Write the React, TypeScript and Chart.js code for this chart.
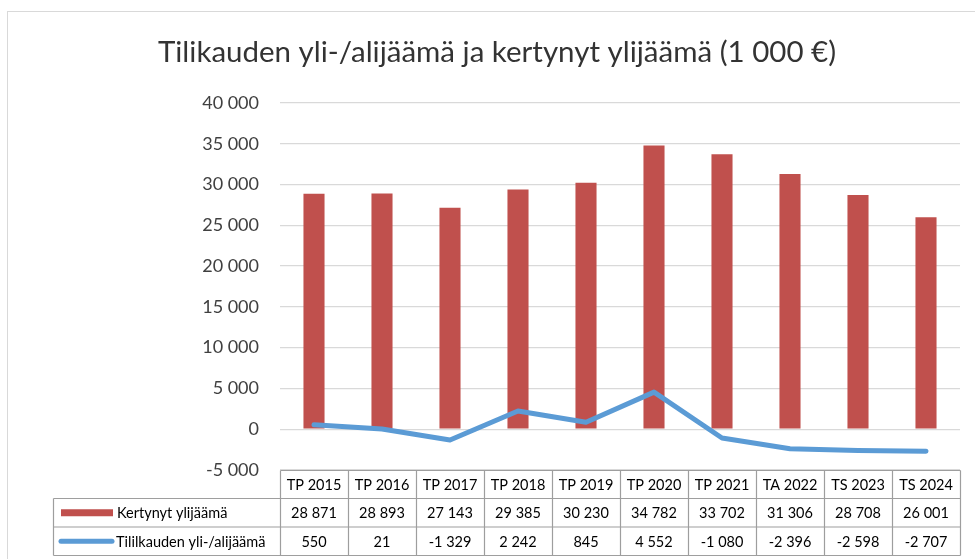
import React, { useEffect, useRef } from "react";
import { Chart, registerables } from "chart.js";

Chart.register(...registerables);

const categories = ["TP 2015", "TP 2016", "TP 2017", "TP 2018", "TP 2019", "TP 2020", "TP 2021", "TA 2022", "TS 2023", "TS 2024"];
const kertynyt = [28871, 28893, 27143, 29385, 30230, 34782, 33702, 31306, 28708, 26001];
const tilikauden = [550, 21, -1329, 2242, 845, 4552, -1080, -2396, -2598, -2707];
const seriesNames = ["Kertynyt ylijäämä", "Tililkauden yli-/alijäämä"];
const title = "Tilikauden yli-/alijäämä ja kertynyt ylijäämä (1 000 €)";
const yMin = -5000;
const yMax = 40000;
const yStep = 5000;

const FONT = "Lato, 'Noto Sans', sans-serif";
const RED = "#C0504D";
const BLUE = "#5B9BD5";

function fmt(n: number): string {
  const neg = n < 0;
  const s = Math.abs(Math.round(n)).toString();
  const g = s.replace(/\B(?=(\d{3})+(?!\d))/g, " ");
  return (neg ? "-" : "") + g;
}

const framePlugin = {
  id: "frame",
  beforeDraw(chart: any) {
    const ctx = chart.ctx;
    ctx.save();
    ctx.fillStyle = "#ffffff";
    ctx.fillRect(0, 0, chart.width, chart.height);
    ctx.strokeStyle = "#D9D9D9";
    ctx.lineWidth = 1;
    ctx.strokeRect(7.5, 11.5, chart.width + 10, chart.height + 10);
    ctx.fillStyle = "#333333";
    ctx.font = `29.5px ${FONT}`;
    ctx.textAlign = "center";
    ctx.textBaseline = "middle";
    ctx.fillText(title, 497, 52);
    ctx.restore();
  },
};

const tablePlugin = {
  id: "dataTable",
  afterDraw(chart: any) {
    const ctx = chart.ctx;
    const xs = chart.scales.x;
    const area = chart.chartArea;
    const n = categories.length;
    const colW = (area.right - area.left) / n;
    const top = Math.round(area.bottom) + 0.5;
    const rowH = [28, 28.5, 28.5];
    const y0 = top;
    const y1 = y0 + rowH[0];
    const y2 = y1 + rowH[1];
    const y3 = y2 + rowH[2];
    const left = 53.5;
    const l = Math.round(area.left) + 0.5;
    const r = Math.round(area.right) + 0.5;
    ctx.save();
    ctx.strokeStyle = "#9E9E9E";
    ctx.lineWidth = 1.2;
    ctx.beginPath();
    ctx.moveTo(l, y0); ctx.lineTo(r, y0);
    ctx.moveTo(left, y1); ctx.lineTo(r, y1);
    ctx.moveTo(left, y2); ctx.lineTo(r, y2);
    ctx.moveTo(left, y3); ctx.lineTo(r, y3);
    ctx.moveTo(left, y1); ctx.lineTo(left, y3);
    for (let i = 0; i <= n; i++) {
      const x = Math.round(area.left + i * colW) + 0.5;
      ctx.moveTo(x, y0); ctx.lineTo(x, y3);
    }
    ctx.stroke();

    ctx.fillStyle = "#000000";
    ctx.font = `14.5px ${FONT}`;
    ctx.textAlign = "center";
    ctx.textBaseline = "middle";
    for (let i = 0; i < n; i++) {
      const cx = xs.getPixelForValue(i);
      ctx.fillText(categories[i], cx, (y0 + y1) / 2 + 1);
      ctx.fillText(fmt(kertynyt[i]), cx, (y1 + y2) / 2 + 1);
      ctx.fillText(fmt(tilikauden[i]), cx, (y2 + y3) / 2 + 1);
    }
    ctx.fillStyle = RED;
    ctx.fillRect(61, (y1 + y2) / 2 - 3.5, 52, 7);
    ctx.strokeStyle = BLUE;
    ctx.lineWidth = 5;
    ctx.lineCap = "round";
    ctx.beginPath();
    ctx.moveTo(61, (y2 + y3) / 2);
    ctx.lineTo(112, (y2 + y3) / 2);
    ctx.stroke();
    ctx.fillStyle = "#000000";
    ctx.textAlign = "left";
    ctx.fillText(seriesNames[0], 117, (y1 + y2) / 2 + 1);
    ctx.fillText(seriesNames[1], 116, (y2 + y3) / 2 + 1);
    ctx.restore();
  },
};

export default function App() {
  const ref = useRef<HTMLCanvasElement | null>(null);
  useEffect(() => {
    if (!ref.current) return;
    const chart = new Chart(ref.current, {
      type: "bar",
      data: {
        labels: categories,
        datasets: [
          {
            type: "line",
            label: seriesNames[1],
            data: tilikauden,
            borderColor: BLUE,
            backgroundColor: BLUE,
            borderWidth: 5,
            pointRadius: 0,
            tension: 0,
            borderCapStyle: "round",
            borderJoinStyle: "round",
            order: 0,
          } as any,
          {
            type: "bar",
            label: seriesNames[0],
            data: kertynyt,
            backgroundColor: RED,
            barPercentage: 0.31,
            categoryPercentage: 1,
            order: 1,
          },
        ],
      },
      options: {
        animation: false,
        responsive: false,
        maintainAspectRatio: false,
        layout: { padding: { top: 103, bottom: 89, left: 0, right: 15 } },
        plugins: {
          legend: { display: false },
          tooltip: { enabled: false },
          title: { display: false },
        },
        scales: {
          x: { display: false, offset: true },
          y: {
            min: yMin,
            max: yMax,
            afterFit(scale: any) {
              scale.width = 280;
            },
            ticks: {
              stepSize: yStep,
              padding: 21,
              color: "#404040",
              font: { family: FONT, size: 18 },
              callback: (v: any) => fmt(Number(v)),
            },
            grid: { color: "#D9D9D9", lineWidth: 1.3, drawTicks: false },
            border: { display: false },
          },
        },
      },
      plugins: [framePlugin, tablePlugin],
    });
    return () => chart.destroy();
  }, []);
  return (
    <div style={{ position: "fixed", left: 0, top: 0, width: 975, height: 559, background: "#fff" }}>
      <canvas ref={ref} width={975} height={559} style={{ width: 975, height: 559 }} />
    </div>
  );
}
